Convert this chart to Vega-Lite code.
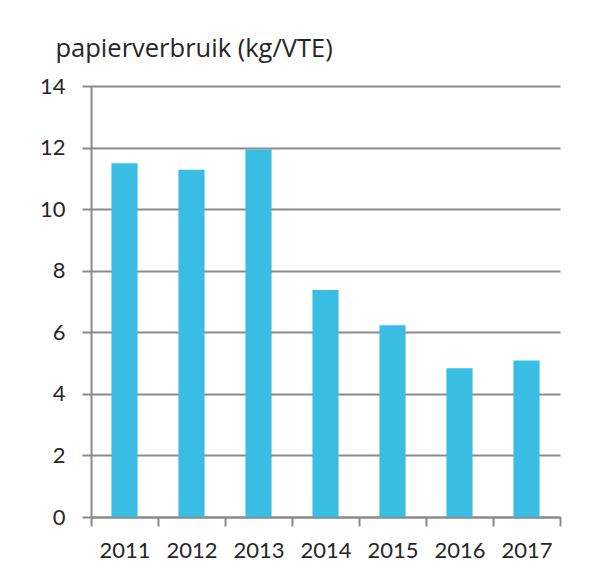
{
  "$schema": "https://vega.github.io/schema/vega-lite/v6.json",
  "width": 469,
  "height": 431,
  "autosize": {"type": "none"},
  "padding": {"left": 91, "top": 86, "right": 30, "bottom": 62},
  "background": "white",
  "config": {
    "view": {"stroke": null},
    "font": "Lato",
    "axis": {"labelFont": "Lato", "titleFont": "Open Sans", "labelColor": "#262626", "titleColor": "#262626"}
  },
  "data": {
    "values": [
      {"jaar": "2011", "waarde": 11.49},
      {"jaar": "2012", "waarde": 11.28},
      {"jaar": "2013", "waarde": 11.94},
      {"jaar": "2014", "waarde": 7.37},
      {"jaar": "2015", "waarde": 6.23},
      {"jaar": "2016", "waarde": 4.83},
      {"jaar": "2017", "waarde": 5.08}
    ]
  },
  "mark": {"type": "bar", "color": "#3ABDE3", "width": {"band": 0.39}},
  "encoding": {
    "x": {
      "field": "jaar",
      "type": "nominal",
      "scale": {"paddingInner": 0, "paddingOuter": 0},
      "axis": {
        "title": null,
        "labelAngle": 0,
        "labelFontSize": 22,
        "labelPadding": 14,
        "tickBand": "extent",
        "tickSize": 9,
        "tickWidth": 2,
        "tickColor": "#8a8a8a",
        "domainColor": "#8a8a8a",
        "domainWidth": 2,
        "grid": false
      }
    },
    "y": {
      "field": "waarde",
      "type": "quantitative",
      "scale": {"domain": [0, 14], "nice": false},
      "axis": {
        "title": "papierverbruik (kg/VTE)",
        "titleAngle": 0,
        "titleAlign": "left",
        "titleBaseline": "alphabetic",
        "titleX": -36,
        "titleY": -30,
        "titleFontSize": 25.5,
        "titleFontWeight": "normal",
        "values": [0, 2, 4, 6, 8, 10, 12, 14],
        "labelFontSize": 22,
        "labelPadding": 17,
        "tickSize": 9,
        "tickWidth": 2,
        "tickColor": "#8a8a8a",
        "domainColor": "#8a8a8a",
        "domainWidth": 2,
        "grid": true,
        "gridColor": "#8a8a8a",
        "gridWidth": 2
      }
    }
  }
}
